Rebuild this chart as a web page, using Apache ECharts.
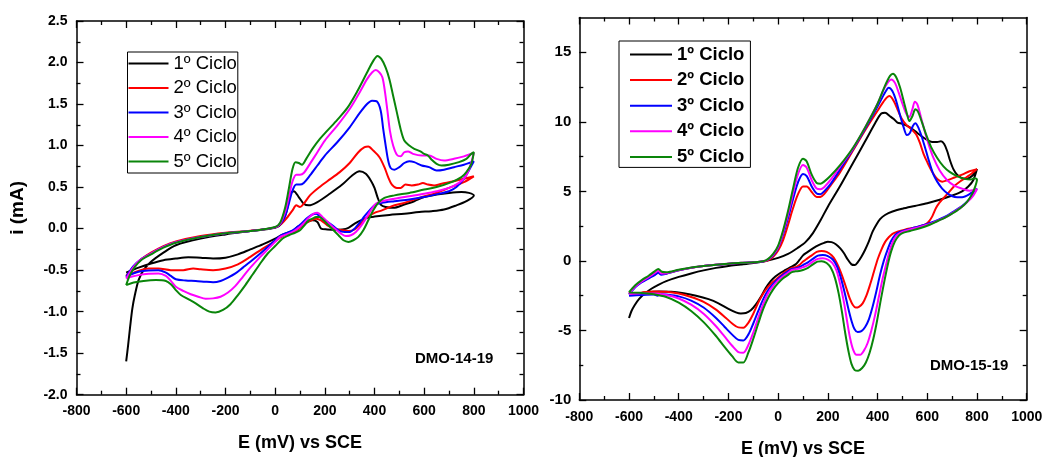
<!DOCTYPE html>
<html>
<head>
<meta charset="utf-8">
<script src="https://cdn.jsdelivr.net/npm/echarts@6/dist/echarts.min.js"></script>
<style>html,body{margin:0;padding:0;background:#fff}#c{width:1045px;height:457px}</style>
</head>
<body>
<div id="c"></div>
<script>
// ---------- DATA ----------
const cycleNames = ['1º Ciclo', '2º Ciclo', '3º Ciclo', '4º Ciclo', '5º Ciclo'];
const panelLabels = ['DMO-14-19', 'DMO-15-19'];
const xTitle = 'E (mV) vs SCE';
const yTitleLeft = 'i (mA)';
const rightYMajor = [-10, -5, 0, 5, 10, 15];
const rightYMinor = [-7.5, -2.5, 2.5, 7.5, 12.5];

// Left panel (DMO-14-19), [E mV, i mA]
const left1 = [[-600,-1.6],[-592,-1.4],[-584,-1.18],[-575,-0.96],[-565,-0.8],[-550,-0.62],[-530,-0.5],[-500,-0.4],[-450,-0.29],[-400,-0.2],[-300,-0.12],[-200,-0.07],[-100,-0.03],[0,0.01],[25,0.06],[45,0.2],[62,0.42],[75,0.45],[95,0.38],[115,0.3],[135,0.28],[170,0.32],[220,0.42],[270,0.53],[310,0.64],[340,0.69],[365,0.66],[385,0.58],[400,0.49],[412,0.38],[425,0.29],[445,0.26],[475,0.25],[520,0.29],[560,0.33],[600,0.38],[650,0.41],[700,0.43],[750,0.44],[780,0.43],[800,0.4],
 [770,0.33],[730,0.28],[680,0.23],[630,0.21],[580,0.2],[520,0.18],[460,0.165],[400,0.145],[370,0.13],[345,0.1],[320,0.06],[295,0.01],[270,-0.01],[240,-0.015],[210,-0.01],[185,0.0],[170,0.08],[150,0.1],[130,0.08],[110,0.05],[90,0.02],[75,-0.02],[50,-0.05],[25,-0.08],[0,-0.12],[-50,-0.19],[-100,-0.25],[-150,-0.31],[-200,-0.35],[-250,-0.36],[-300,-0.35],[-350,-0.345],[-400,-0.36],[-450,-0.38],[-500,-0.42],[-550,-0.47],[-600,-0.53]];
const left2 = [[-600,-0.57],[-570,-0.46],[-540,-0.37],[-500,-0.29],[-450,-0.21],[-400,-0.155],[-300,-0.09],[-200,-0.05],[-100,-0.025],[0,0.015],[25,0.06],[50,0.14],[70,0.22],[85,0.28],[100,0.26],[115,0.3],[140,0.4],[170,0.48],[210,0.57],[260,0.68],[300,0.79],[335,0.92],[360,0.98],[375,0.99],[395,0.94],[420,0.86],[440,0.74],[455,0.62],[470,0.53],[490,0.49],[505,0.49],[525,0.53],[550,0.52],[575,0.53],[595,0.55],[615,0.53],[640,0.52],[670,0.54],[720,0.57],[760,0.6],[800,0.63],
 [760,0.56],[700,0.49],[640,0.42],[580,0.37],[520,0.31],[470,0.27],[430,0.22],[400,0.19],[370,0.14],[345,0.06],[320,-0.01],[295,-0.03],[270,-0.02],[240,0.0],[210,0.04],[185,0.1],[165,0.12],[145,0.1],[120,0.06],[95,0.0],[75,-0.04],[50,-0.06],[25,-0.1],[0,-0.15],[-50,-0.24],[-100,-0.34],[-150,-0.43],[-200,-0.48],[-250,-0.5],[-300,-0.49],[-330,-0.48],[-370,-0.5],[-420,-0.5],[-470,-0.48],[-510,-0.48],[-560,-0.52],[-600,-0.58]];
const left3 = [[-600,-0.58],[-570,-0.45],[-540,-0.37],[-500,-0.3],[-450,-0.22],[-400,-0.165],[-300,-0.1],[-200,-0.055],[-100,-0.03],[0,0.015],[20,0.05],[40,0.15],[55,0.3],[70,0.46],[85,0.53],[100,0.53],[115,0.55],[140,0.64],[170,0.76],[200,0.88],[250,1.04],[300,1.22],[340,1.39],[370,1.5],[390,1.54],[410,1.53],[425,1.42],[435,1.2],[445,1.0],[455,0.82],[465,0.73],[480,0.71],[500,0.74],[520,0.79],[540,0.81],[560,0.8],[590,0.76],[620,0.74],[650,0.7],[680,0.71],[720,0.74],[760,0.77],[800,0.81],
 [780,0.7],[760,0.6],[730,0.5],[700,0.45],[660,0.42],[600,0.38],[540,0.35],[480,0.33],[430,0.31],[400,0.28],[380,0.22],[360,0.15],[340,0.07],[320,0.0],[300,-0.04],[280,-0.04],[255,-0.02],[230,0.04],[205,0.09],[185,0.13],[165,0.18],[150,0.17],[130,0.13],[105,0.06],[85,0.01],[65,-0.03],[40,-0.06],[20,-0.09],[0,-0.14],[-30,-0.22],[-60,-0.3],[-100,-0.4],[-130,-0.47],[-160,-0.54],[-190,-0.59],[-220,-0.63],[-250,-0.645],[-280,-0.64],[-320,-0.63],[-360,-0.625],[-400,-0.61],[-420,-0.57],[-440,-0.53],[-470,-0.5],[-510,-0.505],[-550,-0.52],[-580,-0.55],[-600,-0.58]];
const left4 = [[-600,-0.6],[-570,-0.46],[-540,-0.37],[-500,-0.3],[-450,-0.22],[-400,-0.165],[-300,-0.1],[-200,-0.055],[-100,-0.03],[0,0.015],[20,0.06],[40,0.2],[55,0.38],[70,0.57],[85,0.65],[100,0.65],[115,0.67],[140,0.78],[170,0.92],[200,1.06],[250,1.24],[300,1.44],[340,1.64],[370,1.8],[390,1.88],[405,1.91],[420,1.88],[432,1.82],[442,1.65],[452,1.42],[462,1.18],[475,1.0],[490,0.89],[505,0.87],[520,0.92],[535,0.93],[555,0.9],[590,0.88],[620,0.88],[650,0.84],[680,0.82],[720,0.84],[760,0.87],[800,0.91],
 [785,0.75],[765,0.62],[740,0.55],[700,0.49],[650,0.45],[600,0.42],[540,0.39],[480,0.36],[430,0.33],[405,0.3],[385,0.22],[365,0.12],[345,0.03],[325,-0.04],[305,-0.08],[285,-0.09],[265,-0.06],[240,0.0],[215,0.07],[190,0.14],[170,0.19],[155,0.18],[135,0.13],[110,0.05],[90,0.0],[70,-0.04],[45,-0.07],[20,-0.1],[0,-0.16],[-30,-0.25],[-60,-0.34],[-100,-0.47],[-130,-0.58],[-160,-0.69],[-190,-0.77],[-220,-0.82],[-250,-0.84],[-280,-0.845],[-310,-0.82],[-340,-0.79],[-370,-0.75],[-400,-0.7],[-420,-0.63],[-440,-0.57],[-470,-0.54],[-510,-0.545],[-550,-0.56],[-580,-0.58],[-600,-0.6]];
const left5 = [[-600,-0.68],[-585,-0.56],[-565,-0.46],[-540,-0.38],[-500,-0.31],[-450,-0.23],[-400,-0.17],[-300,-0.1],[-200,-0.055],[-100,-0.03],[0,0.02],[20,0.07],[40,0.25],[55,0.48],[70,0.72],[82,0.8],[95,0.79],[108,0.77],[125,0.84],[150,0.96],[180,1.08],[210,1.18],[250,1.31],[290,1.45],[330,1.65],[370,1.88],[395,2.02],[412,2.08],[428,2.04],[445,1.94],[460,1.8],[475,1.6],[490,1.4],[505,1.2],[520,1.06],[540,1.0],[560,0.96],[585,0.93],[600,0.9],[615,0.88],[630,0.83],[650,0.78],[670,0.76],[700,0.77],[740,0.8],[770,0.84],[790,0.9],[800,0.92],
 [790,0.78],[770,0.68],[750,0.62],[710,0.56],[650,0.5],[600,0.47],[540,0.43],[480,0.4],[440,0.37],[415,0.31],[395,0.22],[375,0.1],[355,-0.02],[335,-0.1],[315,-0.14],[295,-0.16],[275,-0.14],[255,-0.08],[235,-0.02],[215,0.04],[195,0.1],[178,0.14],[165,0.14],[150,0.12],[135,0.1],[118,0.04],[100,-0.02],[80,-0.05],[55,-0.08],[30,-0.12],[0,-0.21],[-30,-0.3],[-60,-0.42],[-90,-0.55],[-120,-0.68],[-150,-0.8],[-180,-0.91],[-210,-0.98],[-240,-1.01],[-265,-1.0],[-290,-0.96],[-320,-0.9],[-350,-0.85],[-380,-0.8],[-400,-0.74],[-420,-0.67],[-440,-0.63],[-480,-0.62],[-530,-0.63],[-570,-0.65],[-600,-0.68]];

// Right panel (DMO-15-19), [E mV, i mA]
const right1 = [[-600,-4.1],[-590,-3.6],[-578,-3.2],[-560,-2.75],[-540,-2.4],[-510,-2.0],[-480,-1.7],[-450,-1.45],[-400,-1.15],[-350,-0.9],[-300,-0.68],[-250,-0.5],[-200,-0.36],[-150,-0.26],[-100,-0.15],[-50,0.0],[0,0.22],[40,0.5],[80,0.95],[110,1.35],[140,2.0],[170,2.9],[200,3.9],[250,5.4],[300,7.0],[350,8.6],[390,9.9],[415,10.6],[430,10.65],[450,10.4],[465,10.2],[480,9.95],[500,9.85],[530,9.6],[560,9.2],[590,8.8],[620,8.55],[640,8.55],[655,8.6],[668,8.4],[680,7.9],[692,7.2],[705,6.6],[720,6.2],[740,5.95],[760,5.9],[780,6.1],[800,6.6],
 [785,5.8],[765,5.35],[740,5.0],[700,4.7],[650,4.4],[600,4.15],[550,3.95],[500,3.75],[460,3.55],[430,3.3],[410,3.0],[395,2.6],[380,2.1],[365,1.4],[350,0.8],[335,0.3],[320,-0.1],[308,-0.3],[295,-0.25],[280,0.1],[265,0.55],[250,0.9],[232,1.2],[215,1.35],[200,1.38],[185,1.3],[165,1.15],[140,0.9],[115,0.6],[100,0.4],[85,0.05],[70,-0.25],[50,-0.45],[30,-0.65],[10,-0.85],[-10,-1.1],[-30,-1.45],[-50,-1.95],[-70,-2.6],[-90,-3.15],[-110,-3.55],[-130,-3.75],[-150,-3.78],[-170,-3.7],[-200,-3.45],[-240,-3.05],[-280,-2.75],[-330,-2.5],[-380,-2.33],[-430,-2.22],[-480,-2.2],[-530,-2.25],[-570,-2.35],[-600,-2.45]];
const right2 = [[-600,-2.35],[-575,-1.85],[-550,-1.5],[-520,-1.2],[-495,-0.95],[-482,-0.82],[-470,-0.95],[-450,-0.9],[-400,-0.68],[-350,-0.5],[-300,-0.37],[-250,-0.28],[-200,-0.2],[-150,-0.15],[-100,-0.1],[-60,-0.05],[-40,0.05],[-20,0.3],[0,0.75],[20,1.5],[40,2.6],[60,3.8],[80,4.8],[100,5.35],[115,5.35],[135,4.95],[155,4.6],[170,4.6],[185,4.8],[210,5.4],[250,6.4],[300,7.9],[350,9.4],[400,10.8],[430,11.6],[448,11.85],[465,11.5],[480,10.9],[495,10.3],[515,9.8],[540,9.4],[555,9.1],[570,8.5],[585,7.7],[600,7.1],[620,6.4],[640,5.9],[660,5.7],[680,5.8],[710,6.0],[740,6.2],[770,6.45],[800,6.6],
 [780,6.3],[760,6.05],[735,5.75],[710,5.4],[690,5.0],[670,4.6],[650,4.2],[635,3.8],[620,3.2],[605,2.8],[590,2.6],[550,2.4],[510,2.25],[480,2.1],[460,1.95],[445,1.7],[430,1.35],[415,0.8],[400,0.1],[385,-0.8],[370,-1.7],[355,-2.5],[340,-3.05],[325,-3.3],[312,-3.35],[300,-3.15],[288,-2.7],[275,-2.0],[260,-1.2],[245,-0.5],[230,0.05],[215,0.4],[195,0.65],[175,0.72],[155,0.65],[135,0.4],[115,0.15],[100,-0.05],[85,-0.3],[70,-0.45],[55,-0.5],[40,-0.65],[20,-0.9],[0,-1.2],[-20,-1.5],[-40,-1.85],[-60,-2.35],[-80,-3.0],[-100,-3.8],[-120,-4.45],[-140,-4.8],[-160,-4.78],[-185,-4.5],[-210,-4.1],[-250,-3.5],[-300,-2.95],[-350,-2.6],[-400,-2.35],[-450,-2.22],[-500,-2.2],[-550,-2.28],[-600,-2.4]];
const right3 = [[-600,-2.4],[-575,-1.9],[-550,-1.55],[-520,-1.25],[-495,-1.0],[-482,-0.85],[-470,-1.0],[-450,-0.92],[-400,-0.68],[-350,-0.5],[-300,-0.37],[-250,-0.28],[-200,-0.2],[-150,-0.15],[-100,-0.1],[-60,-0.04],[-40,0.1],[-20,0.4],[0,0.95],[20,1.9],[40,3.1],[60,4.45],[80,5.65],[100,6.25],[115,6.1],[135,5.35],[155,4.85],[170,4.8],[185,5.0],[210,5.5],[250,6.6],[300,8.0],[350,9.5],[400,11.1],[430,12.1],[445,12.45],[460,12.2],[475,11.5],[490,10.5],[505,9.6],[518,9.05],[530,9.2],[542,9.7],[552,9.9],[565,9.55],[580,8.8],[595,7.9],[610,7.0],[625,6.2],[640,5.7],[660,5.2],[685,4.8],[710,4.6],[740,4.58],[770,4.8],[800,5.2],
 [785,4.8],[765,4.35],[740,3.95],[710,3.6],[680,3.25],[650,3.0],[620,2.78],[590,2.6],[550,2.4],[510,2.2],[485,2.05],[470,1.85],[455,1.45],[440,0.8],[425,0.0],[410,-1.0],[395,-2.2],[380,-3.3],[365,-4.2],[350,-4.75],[335,-5.05],[320,-5.12],[307,-4.9],[295,-4.3],[282,-3.4],[268,-2.3],[252,-1.2],[237,-0.4],[220,0.1],[200,0.35],[180,0.42],[160,0.38],[140,0.15],[120,-0.1],[100,-0.3],[85,-0.45],[70,-0.55],[55,-0.58],[40,-0.75],[20,-1.0],[0,-1.3],[-20,-1.65],[-40,-2.1],[-60,-2.75],[-80,-3.6],[-100,-4.5],[-120,-5.3],[-140,-5.72],[-160,-5.68],[-185,-5.3],[-215,-4.75],[-250,-4.1],[-300,-3.35],[-350,-2.85],[-400,-2.55],[-450,-2.42],[-470,-2.4],[-485,-2.5],[-500,-2.42],[-550,-2.45],[-600,-2.5]];
const right4 = [[-600,-2.35],[-575,-1.85],[-550,-1.5],[-520,-1.15],[-495,-0.85],[-482,-0.7],[-470,-0.9],[-450,-0.88],[-400,-0.66],[-350,-0.49],[-300,-0.36],[-250,-0.27],[-200,-0.2],[-150,-0.14],[-100,-0.1],[-60,-0.03],[-40,0.12],[-20,0.45],[0,1.0],[20,2.05],[40,3.35],[60,4.85],[80,6.25],[100,6.9],[115,6.7],[135,5.8],[155,5.2],[170,5.15],[185,5.3],[210,5.8],[250,6.8],[300,8.05],[350,9.6],[400,11.3],[430,12.5],[455,13.05],[470,12.8],[485,12.1],[500,11.3],[515,10.6],[527,10.35],[540,10.9],[550,11.45],[560,11.25],[575,10.3],[590,9.3],[605,8.4],[625,7.4],[650,6.5],[680,5.8],[710,5.4],[740,5.2],[770,5.05],[800,5.15],
 [785,4.7],[765,4.3],[740,3.9],[710,3.55],[680,3.2],[650,2.95],[620,2.72],[590,2.55],[550,2.35],[510,2.15],[490,2.0],[475,1.8],[462,1.4],[448,0.7],[435,-0.2],[420,-1.3],[405,-2.6],[390,-3.9],[375,-5.0],[360,-5.9],[345,-6.45],[330,-6.75],[315,-6.75],[302,-6.4],[290,-5.6],[278,-4.4],[265,-3.0],[250,-1.7],[235,-0.7],[218,-0.15],[200,0.1],[180,0.2],[160,0.15],[140,-0.05],[120,-0.3],[100,-0.45],[85,-0.55],[70,-0.6],[55,-0.65],[40,-0.85],[20,-1.1],[0,-1.4],[-20,-1.8],[-40,-2.3],[-60,-3.1],[-80,-4.1],[-100,-5.15],[-120,-6.05],[-140,-6.6],[-160,-6.55],[-185,-6.1],[-215,-5.45],[-250,-4.7],[-300,-3.8],[-350,-3.15],[-400,-2.7],[-450,-2.45],[-500,-2.35],[-550,-2.33],[-600,-2.38]];
const right5 = [[-600,-2.25],[-575,-1.75],[-550,-1.4],[-520,-1.05],[-497,-0.75],[-482,-0.58],[-468,-0.78],[-450,-0.82],[-400,-0.64],[-350,-0.48],[-300,-0.36],[-250,-0.27],[-200,-0.2],[-150,-0.14],[-100,-0.1],[-60,-0.02],[-40,0.15],[-20,0.5],[0,1.1],[20,2.2],[40,3.6],[60,5.2],[80,6.7],[100,7.35],[115,7.15],[135,6.2],[155,5.6],[170,5.55],[185,5.7],[210,6.1],[250,6.9],[300,8.1],[350,9.6],[400,11.3],[430,12.6],[450,13.3],[462,13.45],[475,13.2],[490,12.5],[505,11.5],[518,10.6],[528,10.05],[540,10.4],[552,10.9],[562,10.75],[578,10.0],[595,9.1],[615,8.2],[640,7.4],[665,6.8],[690,6.4],[720,6.1],[750,5.9],[775,5.85],[790,5.95],[800,5.85],
 [792,5.3],[780,4.8],[760,4.25],[730,3.75],[700,3.4],[670,3.1],[640,2.85],[610,2.6],[570,2.35],[530,2.15],[500,2.0],[485,1.8],[470,1.4],[455,0.7],[442,-0.2],[428,-1.4],[413,-2.8],[398,-4.3],[383,-5.6],[368,-6.6],[353,-7.3],[338,-7.7],[322,-7.9],[308,-7.85],[295,-7.4],[283,-6.5],[270,-5.2],[257,-3.7],[243,-2.3],[228,-1.2],[212,-0.5],[195,-0.15],[175,-0.02],[158,-0.05],[140,-0.25],[120,-0.5],[100,-0.65],[85,-0.72],[70,-0.75],[55,-0.8],[40,-1.0],[20,-1.25],[0,-1.6],[-20,-2.05],[-40,-2.65],[-60,-3.45],[-80,-4.5],[-100,-5.6],[-120,-6.6],[-140,-7.3],[-160,-7.3],[-185,-6.85],[-215,-6.2],[-250,-5.4],[-300,-4.4],[-350,-3.6],[-400,-3.0],[-450,-2.6],[-500,-2.4],[-550,-2.3],[-600,-2.28]];

const leftSets = [left1, left2, left3, left4, left5];
const rightSets = [right1, right2, right3, right4, right5];
const colors = ['#000000', '#ff0000', '#0000ff', '#ff00ff', '#0a850a'];

// ---------- CHART ----------
const FONT = '"Liberation Sans", Arial, Helvetica, sans-serif';
const lineS = { color: '#000', width: 1.5 };
const tickS = { color: '#000', width: 1.3 };
const plain = v => String(v);
const titleStyle = { fontFamily: FONT, fontWeight: 'bold', fontSize: 18, color: '#000' };

function xAxisDef(grid, pos, opts) {
  return Object.assign({
    gridIndex: grid, type: 'value', position: pos, min: -800, max: 1000, interval: 200,
    axisLine: { show: true, onZero: false, lineStyle: lineS },
    axisTick: { show: true, inside: true, length: 7, lineStyle: tickS },
    minorTick: { show: true, splitNumber: 2, length: 4, lineStyle: tickS },
    splitLine: { show: false },
    axisLabel: { show: false }
  }, opts || {});
}
function yAxisDef(grid, pos, min, max, interval, opts) {
  return Object.assign({
    gridIndex: grid, type: 'value', position: pos, min: min, max: max, interval: interval,
    axisLine: { show: true, onZero: false, lineStyle: lineS },
    axisTick: { show: true, inside: true, length: 7, lineStyle: tickS },
    minorTick: { show: true, splitNumber: 2, length: 4, lineStyle: tickS },
    splitLine: { show: false },
    axisLabel: { show: false }
  }, opts || {});
}

const option = {
  animation: false,
  backgroundColor: '#fff',
  grid: [
    { left: 76.5, top: 21, width: 447, height: 373.7, outerBoundsMode: 'none', containLabel: false },
    { left: 579.3, top: 17.5, width: 447.4, height: 382.5, outerBoundsMode: 'none', containLabel: false }
  ],
  xAxis: [
    xAxisDef(0, 'bottom', { name: xTitle, nameLocation: 'middle', nameGap: 39, nameTextStyle: titleStyle,
      axisLabel: { color: '#000', fontFamily: FONT, fontWeight: 'bold', fontSize: 14, margin: 9, formatter: plain } }),
    xAxisDef(0, 'top'),
    xAxisDef(1, 'bottom', { name: xTitle, nameLocation: 'middle', nameGap: 40, nameTextStyle: titleStyle,
      axisLabel: { color: '#000', fontFamily: FONT, fontWeight: 'bold', fontSize: 14, margin: 10, formatter: plain } }),
    xAxisDef(1, 'top')
  ],
  yAxis: [
    yAxisDef(0, 'left', -2, 2.5, 0.5, {
      axisLabel: { color: '#000', fontFamily: FONT, fontWeight: 'bold', fontSize: 14, margin: 9,
        formatter: v => v.toFixed(1) },
      name: yTitleLeft, nameLocation: 'middle', nameGap: 49, nameRotate: 90,
      nameTextStyle: { fontFamily: FONT, fontWeight: 'bold', fontSize: 19, color: '#000' } }),
    yAxisDef(0, 'right', -2, 2.5, 0.5),
    yAxisDef(1, 'left', -10, 17.5, 5, {
      axisTick: { show: true, inside: true, length: 7, lineStyle: tickS, customValues: rightYMajor },
      minorTick: { show: false },
      axisLabel: { color: '#000', fontFamily: FONT, fontWeight: 'bold', fontSize: 15, margin: 8,
        customValues: rightYMajor, formatter: plain } }),
    yAxisDef(1, 'right', -10, 17.5, 5, {
      axisTick: { show: true, inside: true, length: 7, lineStyle: tickS, customValues: rightYMajor },
      minorTick: { show: false } }),
    yAxisDef(1, 'left', -10, 17.5, 5, {
      axisLine: { show: false, onZero: false },
      axisTick: { show: true, inside: true, length: 4, lineStyle: tickS, customValues: rightYMinor },
      minorTick: { show: false } }),
    yAxisDef(1, 'right', -10, 17.5, 5, {
      axisLine: { show: false, onZero: false },
      axisTick: { show: true, inside: true, length: 4, lineStyle: tickS, customValues: rightYMinor },
      minorTick: { show: false } })
  ],
  legend: [
    { data: cycleNames, left: 127.5, top: 52, orient: 'vertical', icon: 'rect', itemWidth: 40, itemHeight: 2, itemGap: 5.5,
      padding: [2, 1, 2, 1], borderColor: '#000', borderWidth: 1, backgroundColor: '#fff', selectedMode: false,
      textStyle: { fontFamily: FONT, fontSize: 18.5, color: '#000' } },
    { data: cycleNames, left: 619, top: 41, orient: 'vertical', icon: 'rect', itemWidth: 42, itemHeight: 2, itemGap: 6.6,
      padding: [4, 6, 1, 11], borderColor: '#000', borderWidth: 1, backgroundColor: '#fff', selectedMode: false,
      textStyle: { fontFamily: FONT, fontSize: 18.5, fontWeight: 'bold', color: '#000' } }
  ],
  graphic: [
    { type: 'text', left: 415, top: 351, style: { text: panelLabels[0], font: 'bold 15px ' + FONT, fill: '#000' } },
    { type: 'text', left: 930, top: 358, style: { text: panelLabels[1], font: 'bold 15px ' + FONT, fill: '#000' } }
  ],
  series: []
};

leftSets.forEach((d, k) => option.series.push({
  name: cycleNames[k], type: 'line', xAxisIndex: 0, yAxisIndex: 0, data: d,
  symbol: 'none', smooth: 0.3, lineStyle: { color: colors[k], width: 2 }, itemStyle: { color: colors[k] }, z: 2 + k
}));
rightSets.forEach((d, k) => option.series.push({
  name: cycleNames[k], type: 'line', xAxisIndex: 2, yAxisIndex: 2, data: d,
  symbol: 'none', smooth: 0.3, lineStyle: { color: colors[k], width: 2 }, itemStyle: { color: colors[k] }, z: 2 + k
}));

const chart = echarts.init(document.getElementById('c'), null, { renderer: 'canvas' });
chart.setOption(option);
</script>
</body>
</html>
